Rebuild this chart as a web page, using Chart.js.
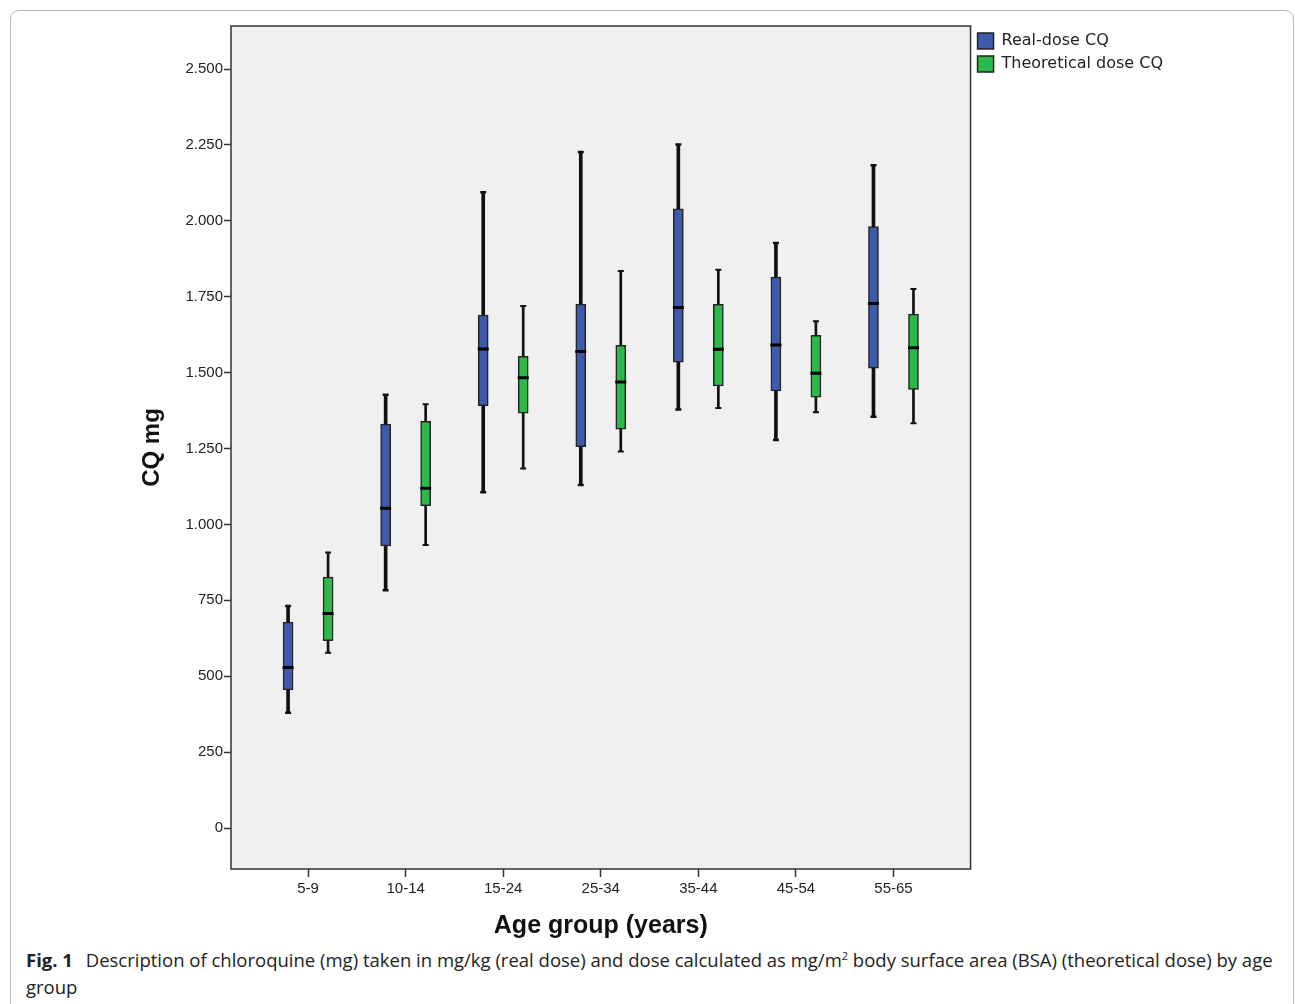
<!DOCTYPE html>
<html>
<head>
<meta charset="utf-8">
<script src="https://cdn.jsdelivr.net/npm/chart.js@4.4.1/dist/chart.umd.min.js"></script>
<style>
    body { margin: 0; background: #fff; width: 1295px; height: 1004px; overflow: hidden; position: relative; }
    .frame { position: absolute; left: 10px; top: 10px; width: 1282px; height: 1010px; border: 1px solid #b8b8b8; border-radius: 9px; }
    #wrap { position: absolute; left: 0; top: 0; width: 1295px; height: 945px; }
    .caption { position: absolute; left: 26px; top: 946px; width: 1255px; font-family: "Open Sans", sans-serif; font-size: 18.5px; line-height: 27px; color: #222; letter-spacing: 0; }
    .caption b { font-weight: 700; margin-right: 8px; }
    .caption sup { font-size: 11px; line-height: 0; }
</style>
</head>
<body>
<div class="frame"></div>
<div id="wrap"><canvas id="boxChart" width="1295" height="945"></canvas></div>
<div class="caption"><b>Fig. 1</b> Description of chloroquine (mg) taken in mg/kg (real dose) and dose calculated as mg/m<sup>2</sup> body surface area (BSA) (theoretical dose) by age group</div>
<script>
const ageGroups = ['5-9', '10-14', '15-24', '25-34', '35-44', '45-54', '55-65'];

// Real-dose CQ
const realMin    = [380, 783, 1106, 1130, 1379, 1278, 1355];
const realQ1     = [455, 929, 1391, 1256, 1535, 1440, 1515];
const realMedian = [529, 1053, 1578, 1570, 1715, 1591, 1728];
const realQ3     = [678, 1331, 1690, 1726, 2040, 1815, 1981];
const realMax    = [731, 1427, 2094, 2227, 2252, 1927, 2183];

// Theoretical dose CQ
const theoMin    = [577, 932, 1184, 1240, 1384, 1370, 1333];
const theoQ1     = [617, 1062, 1367, 1314, 1456, 1419, 1445];
const theoMedian = [707, 1119, 1483, 1469, 1577, 1498, 1582];
const theoQ3     = [827, 1340, 1554, 1590, 1725, 1623, 1693];
const theoMax    = [908, 1396, 1720, 1835, 1839, 1669, 1776];

const yTicks = [0, 250, 500, 750, 1000, 1250, 1500, 1750, 2000, 2250, 2500];

const blue = '#3f5aad';
const green = '#2db94a';
const shift = 0.205;

const at = (i, side) => i + side * shift;
const boxes = (q1, q3, side) => q1.map((v, i) => ({ x: at(i, side), y: [v, q3[i]] }));
const whisk = (lo, hi, side) => lo.map((v, i) => ({ x: at(i, side), y: [v, hi[i]] }));
const marks = (arr, side) => arr.map((v, i) => ({ x: at(i, side), y: v }));

const plotFrame = {
    id: 'plotFrame',
    beforeDatasetsDraw(chart) {
        const { ctx, chartArea: a } = chart;
        ctx.save();
        ctx.fillStyle = '#f0f0f0';
        ctx.fillRect(a.left, a.top, a.right - a.left, a.bottom - a.top);
        ctx.restore();
    },
    afterDatasetsDraw(chart) {
        const { ctx, chartArea: a } = chart;
        ctx.save();
        ctx.strokeStyle = '#333';
        ctx.lineWidth = 1.5;
        ctx.strokeRect(a.left, a.top, a.right - a.left, a.bottom - a.top);
        ctx.restore();
    }
};

const capStyle = (color, r, w) => ({
    type: 'scatter', pointStyle: 'line', pointRadius: r, borderColor: color,
    borderWidth: w, pointHoverRadius: r, order: 1, isMark: true
});

new Chart(document.getElementById('boxChart'), {
    type: 'bar',
    data: {
        datasets: [
            {
                label: 'Real-dose CQ', data: boxes(realQ1, realQ3, -1),
                backgroundColor: blue, borderColor: '#222', borderWidth: 1.5,
                barThickness: 10, grouped: false, borderSkipped: false, order: 2
            },
            {
                label: 'Theoretical dose CQ', data: boxes(theoQ1, theoQ3, 1),
                backgroundColor: green, borderColor: '#222', borderWidth: 1.5,
                barThickness: 10, grouped: false, borderSkipped: false, order: 2
            },
            { label: 'w1', data: whisk(realMin, realMax, -1), backgroundColor: '#111', barThickness: 3, grouped: false, order: 3, isMark: true },
            { label: 'w2', data: whisk(theoMin, theoMax, 1), backgroundColor: '#111', barThickness: 2, grouped: false, order: 3, isMark: true },
            { label: 'm1', data: marks(realMedian, -1), ...capStyle('#000', 5.5, 3) },
            { label: 'm2', data: marks(theoMedian, 1), ...capStyle('#000', 5.5, 3) },
            { label: 'c1', data: marks(realMin, -1), ...capStyle('#111', 3, 2.5) },
            { label: 'c2', data: marks(realMax, -1), ...capStyle('#111', 3, 2.5) },
            { label: 'c3', data: marks(theoMin, 1), ...capStyle('#111', 3, 2) },
            { label: 'c4', data: marks(theoMax, 1), ...capStyle('#111', 3, 2) }
        ]
    },
    options: {
        responsive: false,
        animation: false,
        layout: { padding: { top: 26, left: 132, right: 122, bottom: 2 } },
        plugins: {
            tooltip: { enabled: false },
            legend: {
                position: 'right',
                align: 'start',
                labels: {
                    filter: (item, data) => !data.datasets[item.datasetIndex].isMark,
                    boxWidth: 16, boxHeight: 16, padding: 7, color: '#222',
                    font: { family: 'DejaVu Sans', size: 16 }
                }
            }
        },
        scales: {
            x: {
                type: 'linear',
                min: -0.79,
                max: 6.79,
                offset: false,
                afterBuildTicks: scale => { scale.ticks = ageGroups.map((g, i) => ({ value: i })); },
                afterFit: scale => { scale.height = 74; },
                grid: { display: true, offset: false, drawOnChartArea: false, tickLength: 8, color: '#333', tickWidth: 1.5 },
                border: { display: false },
                ticks: {
                    callback: (v) => ageGroups[v] ?? '',
                    color: '#222', font: { family: 'Liberation Sans', size: 15 }, padding: 3, maxRotation: 0
                },
                title: {
                    display: true, text: 'Age group (years)', color: '#111',
                    font: { family: 'Liberation Sans', size: 25, weight: 'bold' }, padding: { top: 2, bottom: 2 }
                }
            },
            y: {
                min: -135,
                max: 2642,
                afterBuildTicks: scale => { scale.ticks = yTicks.map(v => ({ value: v })); },
                afterFit: scale => { scale.width = 99; },
                grid: { display: true, drawOnChartArea: false, tickLength: 7, color: '#333', tickWidth: 1.5 },
                border: { display: false },
                ticks: {
                    callback: v => v.toLocaleString('de-DE'),
                    color: '#222', font: { family: 'Liberation Sans', size: 15 }, padding: 1
                },
                title: {
                    display: true, text: 'CQ mg', color: '#111',
                    font: { family: 'Liberation Sans', size: 24, weight: 'bold' }, padding: { top: 6, bottom: 4 }
                }
            }
        }
    },
    plugins: [plotFrame]
});
</script>
</body>
</html>
